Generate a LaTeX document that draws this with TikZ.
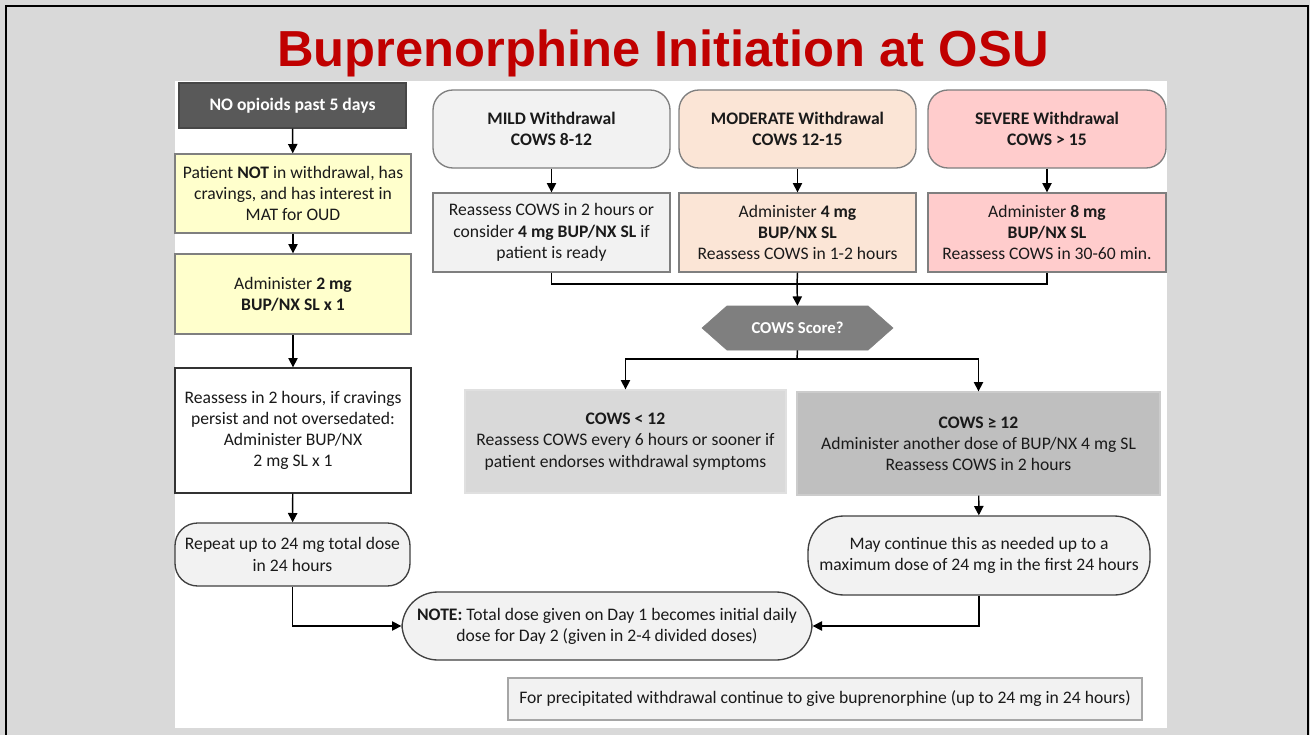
\documentclass[tikz,border=0pt]{standalone}
\usepackage{fontspec}
\setmainfont{Carlito}
\newfontfamily\titlefont{Liberation Sans}
\usetikzlibrary{arrows.meta,shapes.symbols}
\definecolor{bggray}{HTML}{D9D9D9}
\definecolor{titlered}{HTML}{C00000}
\definecolor{darkbox}{HTML}{595959}
\definecolor{yellowbox}{HTML}{FFFFCC}
\definecolor{mildfill}{HTML}{F2F2F2}
\definecolor{modfill}{HTML}{FBE5D6}
\definecolor{sevfill}{HTML}{FFCCCC}
\definecolor{hexfill}{HTML}{7F7F7F}
\definecolor{lofill}{HTML}{D9D9D9}
\definecolor{hifill}{HTML}{BFBFBF}
\definecolor{edge}{HTML}{7F7F7F}
\definecolor{txt}{HTML}{1A1A1A}
\newcommand\bx[7]{\node[#6, minimum width={(#4-#2)*0.75pt}, minimum height={(#5-#3)*0.75pt}] (#1) at ({(#2+#4)/2},{(#3+#5)/2}) {#7};}
\begin{document}
\begin{tikzpicture}[x=0.75pt,y=-0.75pt,
  base/.style={inner sep=0pt, align=center, text=txt, font=\fontsize{13.2}{15.9}\selectfont, line width=1pt},
  sqbox/.style={base, draw=edge},
  rbox/.style={base, draw=edge, rounded corners=15pt},
  pill/.style={base, draw=black!75, rounded corners=24pt},
  arr/.style={line width=1.1pt, -{Triangle[width=7pt,length=7pt]}},
  ln/.style={line width=1.1pt}]
\useasboundingbox (0,0) rectangle (1310,735);
\fill[bggray] (0,0) rectangle (1310,735);
\draw[line width=1.6pt, black] (6,6) rectangle (1308,745);
\fill[white] (175,81) rectangle (1167,728);
\node[anchor=base, text=titlered, font=\titlefont\bfseries\fontsize{38}{42}\selectfont, inner sep=0pt] (title) at (663,67) {Buprenorphine Initiation at OSU};
% left column
\bx{n1}{179}{83}{406}{128}{sqbox, fill=darkbox, draw=darkbox!80!black, text=white, font=\bfseries\fontsize{13.2}{15.9}\selectfont}{NO opioids past 5 days}
\bx{n2}{175}{154}{411}{233}{sqbox, fill=yellowbox}{Patient \textbf{NOT} in withdrawal, has\\ cravings, and has interest in\\ MAT for OUD}
\bx{n3}{175}{254}{411}{334}{sqbox, fill=yellowbox}{Administer \textbf{2 mg}\\ \textbf{BUP/NX SL x 1}}
\bx{n4}{175}{368}{411}{493}{sqbox, fill=white, draw=black!80}{Reassess in 2 hours, if cravings\\ persist and not oversedated:\\ Administer BUP/NX\\ 2 mg SL x 1}
\bx{rep}{175}{523}{410}{586}{pill, fill=mildfill, rounded corners=17pt}{Repeat up to 24 mg total dose\\ in 24 hours}
% headers
\bx{mh}{433}{90}{670}{168}{rbox, fill=mildfill}{\textbf{MILD Withdrawal}\\ \textbf{COWS 8-12}}
\bx{oh}{679}{90}{916}{168}{rbox, fill=modfill}{\textbf{MODERATE Withdrawal}\\ \textbf{COWS 12-15}}
\bx{sh}{928}{90}{1166}{168}{rbox, fill=sevfill}{\textbf{SEVERE Withdrawal}\\ \textbf{COWS > 15}}
\bx{mb}{433}{193}{670}{272}{sqbox, fill=mildfill}{Reassess COWS in 2 hours or\\ consider \textbf{4 mg BUP/NX SL} if\\ patient is ready}
\bx{ob}{679}{193}{916}{272}{sqbox, fill=modfill}{Administer \textbf{4 mg}\\ \textbf{BUP/NX SL}\\ Reassess COWS in 1-2 hours}
\bx{sb}{928}{193}{1166}{272}{sqbox, fill=sevfill}{Administer \textbf{8 mg}\\ \textbf{BUP/NX SL}\\ Reassess COWS in 30-60 min.}
% decision
\node[signal, signal to=west and east, signal pointer angle=83, fill=hexfill, draw=hexfill, text=white, inner sep=0pt,
  minimum width={191*0.75pt}, minimum height={44*0.75pt}, font=\bfseries\fontsize{12.5}{14}\selectfont] (hex) at (797.5,328) {COWS Score?};
\bx{lo}{465}{390}{786}{493}{base, fill=lofill, draw=black!12}{\textbf{COWS < 12}\\ Reassess COWS every 6 hours or sooner if\\ patient endorses withdrawal symptoms}
\bx{hi}{797}{392}{1160}{495}{base, fill=hifill, draw=black!20}{\textbf{COWS ≥ 12}\\ Administer another dose of BUP/NX 4 mg SL\\ Reassess COWS in 2 hours}
\bx{may}{808}{516}{1150}{595}{pill, fill=mildfill, rounded corners=27pt}{May continue this as needed up to a\\ maximum dose of 24 mg in the first 24 hours}
\bx{note}{402}{592}{812}{660}{pill, fill=mildfill, rounded corners=27pt}{\textbf{NOTE:} Total dose given on Day 1 becomes initial daily\\ dose for Day 2 (given in 2-4 divided doses)}
\bx{prec}{508}{678}{1142}{720}{sqbox, fill=mildfill, draw=black!35}{For precipitated withdrawal continue to give buprenorphine (up to 24 mg in 24 hours)}
% connectors
\coordinate (j) at (797,284);
\coordinate (k) at (797,359);
\draw[arr] (n1) -- (n2);
\draw[arr] (n2) -- (n3);
\draw[arr] (n3) -- (n4);
\draw[arr] (n4) -- (rep);
\draw[arr] (mh) -- (mb);
\draw[arr] (oh) -- (ob);
\draw[arr] (sh) -- (sb);
\draw[ln] (mb.south) |- (j) -| (sb.south);
\draw[ln] (ob.south) -- (j);
\draw[arr] (j) -- (hex.north);
\draw[ln] (hex.south) -- (k);
\draw[arr] (k) -| (lo.north);
\draw[arr] (k) -| (hi.north);
\draw[arr] (hi) -- (may);
\draw[arr] (may.south) |- (note.east);
\draw[arr] (rep.south) |- (note.west);
\end{tikzpicture}
\end{document}
